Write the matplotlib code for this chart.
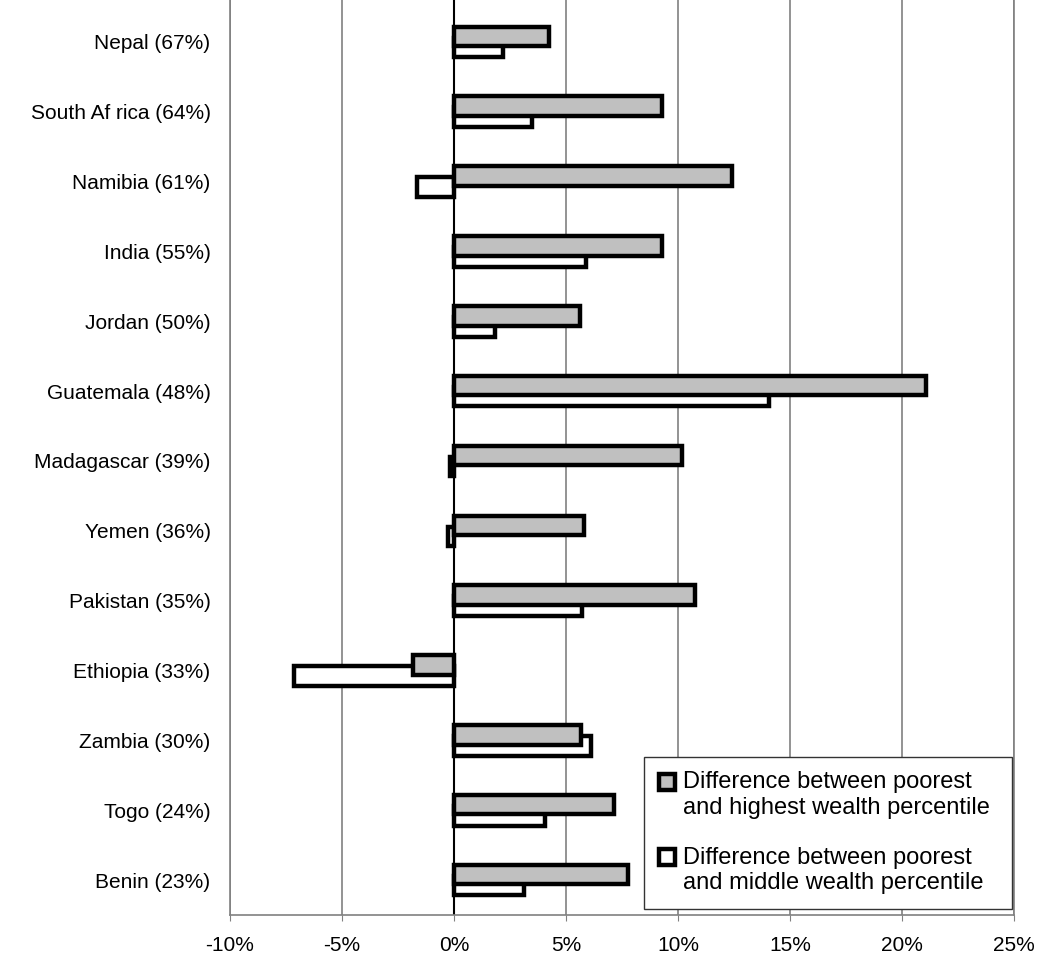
import numpy as np
from matplotlib import pyplot as plt
from matplotlib.patches import Rectangle
from matplotlib.legend_handler import HandlerPatch, update_from_first_child
from matplotlib.container import BarContainer

plt.rcParams['font.family'] = ['Liberation Sans', 'DejaVu Sans']

# countries, top to bottom, with the share shown in brackets
countries = ["Nepal (67%)", "South Af rica (64%)", "Namibia (61%)", "India (55%)",
             "Jordan (50%)", "Guatemala (48%)", "Madagascar (39%)", "Yemen (36%)",
             "Pakistan (35%)", "Ethiopia (33%)", "Zambia (30%)", "Togo (24%)",
             "Benin (23%)"]

# difference between poorest and highest wealth percentile (%)
poorest_vs_highest = [4.25, 9.28, 12.4, 9.28, 5.63, 21.08, 10.17, 5.8, 10.75,
                      -1.83, 5.65, 7.14, 7.79]

# difference between poorest and middle wealth percentile (%)
poorest_vs_middle = [2.18, 3.47, -1.66, 5.88, 1.84, 14.05, -0.19, -0.28, 5.72,
                     -7.15, 6.10, 4.08, 3.14]

x_ticks = [-10, -5, 0, 5, 10, 15, 20, 25]
legend_labels = ["Difference between poorest\nand highest wealth percentile",
                 "Difference between poorest\nand middle wealth percentile"]


def raised_square(legend, orig_handle, xdescent, ydescent, width, height, fontsize):
    """
    Legend key that sits next to the first line of a two line label
    """
    return Rectangle((-xdescent, -ydescent + 0.58 * fontsize), width, height)


def main():
    fig = plt.figure(figsize=(10.42, 9.58), dpi=100)
    ax = fig.add_axes([0.2207, 0.0449, 0.7524, 0.9551])

    y = np.arange(len(countries))[::-1]
    height = 0.28
    offset = 0.079

    # white bars first so the grey ones sit on top
    ax.barh(y - offset, poorest_vs_middle, height=height, color='white',
            edgecolor='black', linewidth=3.2, label=legend_labels[1], zorder=3)
    ax.barh(y + offset, poorest_vs_highest, height=height, color='#C0C0C0',
            edgecolor='black', linewidth=3.2, label=legend_labels[0], zorder=4)

    ax.set_xlim(-10, 25)
    ax.set_ylim(-0.5, 12.6)
    ax.set_xticks(x_ticks)
    ax.set_xticklabels([f"{t}%" for t in x_ticks], fontsize=15)
    ax.set_yticks(y)
    ax.set_yticklabels(countries, fontsize=15)

    ax.tick_params(axis='y', length=0, pad=14)
    ax.tick_params(axis='x', length=4, color='#808080', pad=11)

    ax.grid(axis='x', color='#808080', linewidth=1.2, zorder=0)
    ax.axvline(0, color='black', linewidth=1.5, zorder=2)
    ax.set_axisbelow(True)

    ax.spines['top'].set_visible(False)
    for side in ['left', 'bottom', 'right']:
        ax.spines[side].set_color('#808080')
        ax.spines[side].set_linewidth(1.2)

    handles, labels = ax.get_legend_handles_labels()
    key = HandlerPatch(patch_func=raised_square, update_func=update_from_first_child)
    leg = ax.legend(handles[::-1], labels[::-1], loc='upper left',
                    bbox_to_anchor=(0.528, 0.0, 0.469, 0.173), mode='expand',
                    fontsize=17, frameon=True,
                    fancybox=False, framealpha=1, edgecolor='#333333',
                    handlelength=0.68, handleheight=0.68, handletextpad=0.35,
                    labelspacing=1.17, borderpad=0.62, borderaxespad=0,
                    handler_map={BarContainer: key})
    leg.get_frame().set_linewidth(1.0)
    # the legend in the reference is cut off at the right edge of the plot
    leg.get_frame().set_clip_box(ax.bbox)
    leg.get_frame().set_clip_on(True)
    for t in leg.get_texts():
        t.set_linespacing(1.22)
        t.set_clip_box(ax.bbox)
        t.set_clip_on(True)

    fig.savefig("out.png", dpi=100)


main()
